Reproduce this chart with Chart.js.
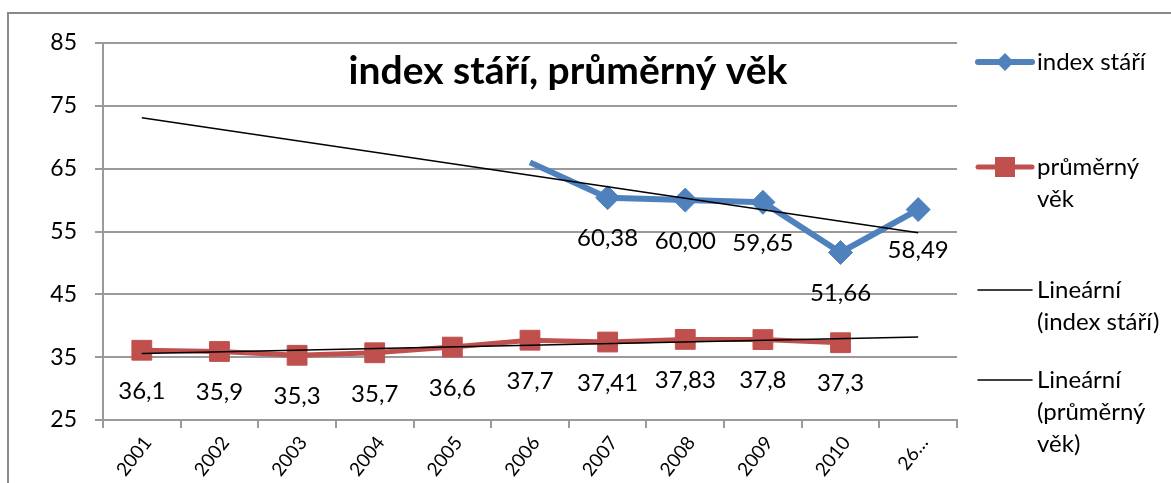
<!DOCTYPE html>
<html>
<head>
<meta charset="utf-8">
<script src="https://cdn.jsdelivr.net/npm/chart.js@4"></script>
<style>
  body { margin: 0; background: #fff; }
  canvas { display: block; }
</style>
</head>
<body>
<canvas id="chart" width="1171" height="483"></canvas>
<script>
(function(){
    const years = ["2001","2002","2003","2004","2005","2006","2007","2008","2009","2010","26…"];
    const indexStari = [null, null, null, null, null, 66, 60.38, 60.00, 59.65, 51.66, 58.49];
    const prumernyVek = [36.1, 35.9, 35.3, 35.7, 36.6, 37.7, 37.41, 37.83, 37.8, 37.3, null];
    // trend lines (ends only)
    const trendIndex = [73.1, null, null, null, null, null, null, null, null, null, 54.8];
    const trendVek = [35.6, null, null, null, null, null, null, null, null, null, 38.2];
    const yTicks = [25, 35, 45, 55, 65, 75, 85];
    const title = "index stáří, průměrný věk";
    const legendText = [["index stáří"], ["průměrný", "věk"], ["Lineární", "(index stáří)"], ["Lineární", "(průměrný", "věk)"]];

    const FONT = "Lato, 'Open Sans', sans-serif";
    const BLUE = "#4f81bd";
    const RED = "#c0504d";
    const GRID = "#9a9a9a";

    // value labels under the points
    const valueLabels = {
        id: "valueLabels",
        afterDatasetsDraw(chart) {
            const ctx = chart.ctx;
            ctx.save();
            ctx.font = "24px " + FONT;
            ctx.fillStyle = "#000";
            ctx.textAlign = "center";
            ctx.textBaseline = "middle";
            chart.data.datasets.forEach((ds, i) => {
                if (!ds.showValues) return;
                chart.getDatasetMeta(i).data.forEach((pt, j) => {
                    const v = ds.data[j];
                    if (v == null || pt.options.radius === 0) return;
                    const txt = (ds.decimals ? v.toFixed(ds.decimals) : String(v)).replace(".", ",");
                    ctx.fillText(txt, pt.x, pt.y + 41);
                });
            });
            ctx.restore();
        }
    };

    // frame, title and the legend on the right
    const decor = {
        id: "decor",
        beforeDraw(chart) {
            const ctx = chart.ctx;
            ctx.save();
            ctx.strokeStyle = "#8a8a8a";
            ctx.lineWidth = 2;
            ctx.strokeRect(8, 13, 1300, 600);
            ctx.restore();
        },
        afterDraw(chart) {
            const ctx = chart.ctx;
            ctx.save();
            ctx.fillStyle = "#000";
            ctx.font = "bold 39px " + FONT;
            ctx.textAlign = "center";
            ctx.textBaseline = "middle";
            ctx.fillText(title, 568, 71);

            const rows = [62, 167, 290, 380];
            ctx.font = "24px " + FONT;
            ctx.textAlign = "left";
            chart.data.datasets.forEach((ds, i) => {
                const y = rows[i];
                ctx.strokeStyle = ds.borderColor;
                ctx.lineWidth = ds.borderWidth;
                ctx.lineCap = "round";
                ctx.beginPath();
                ctx.moveTo(978, y);
                ctx.lineTo(1032, y);
                ctx.stroke();
                if (ds.legendMarker === "diamond") {
                    ctx.fillStyle = ds.borderColor;
                    ctx.beginPath();
                    ctx.moveTo(1005, y - 9); ctx.lineTo(1014, y); ctx.lineTo(1005, y + 9); ctx.lineTo(996, y);
                    ctx.closePath();
                    ctx.fill();
                } else if (ds.legendMarker === "square") {
                    ctx.fillStyle = ds.borderColor;
                    ctx.fillRect(995, y - 10, 20, 20);
                }
                ctx.fillStyle = "#000";
                legendText[i].forEach((line, k) => ctx.fillText(line, 1037, y + k * 32));
            });
            ctx.restore();
        }
    };

    new Chart(document.getElementById("chart"), {
        type: "line",
        data: {
            labels: years,
            datasets: [{
                label: "index stáří",
                data: indexStari,
                borderColor: BLUE,
                backgroundColor: BLUE,
                borderWidth: 6,
                pointStyle: "rectRot",
                pointRadius: indexStari.map((v, i) => i === 5 ? 0 : 12),
                pointBorderWidth: 1,
                showValues: true,
                decimals: 2,
                legendMarker: "diamond",
                order: 2
            }, {
                label: "průměrný věk",
                data: prumernyVek,
                borderColor: RED,
                backgroundColor: RED,
                borderWidth: 5,
                pointStyle: "rect",
                pointRadius: 14,
                pointBorderWidth: 1,
                showValues: true,
                legendMarker: "square",
                order: 2
            }, {
                label: "Lineární (index stáří)",
                data: trendIndex,
                borderColor: "#000",
                borderWidth: 1.5,
                pointRadius: 0,
                spanGaps: true,
                order: 1
            }, {
                label: "Lineární (průměrný věk)",
                data: trendVek,
                borderColor: "#000",
                borderWidth: 1.5,
                pointRadius: 0,
                spanGaps: true,
                order: 1
            }]
        },
        options: {
            responsive: false,
            animation: false,
            layout: { padding: { left: 0, top: 43, right: 214, bottom: 0 } },
            plugins: {
                legend: { display: false },
                tooltip: { enabled: false }
            },
            scales: {
                x: {
                    offset: true,
                    grid: { display: true, drawOnChartArea: false, offset: true, tickLength: 8, color: GRID, lineWidth: 2 },
                    border: { color: GRID, width: 2 },
                    ticks: {
                        autoSkip: false,
                        minRotation: 52,
                        maxRotation: 52,
                        padding: 4,
                        labelOffset: 6,
                        color: "#000",
                        font: { family: FONT, size: 19 }
                    },
                    afterFit(scale) { scale.height = 63; }
                },
                y: {
                    min: 25,
                    max: 85,
                    afterBuildTicks(scale) { scale.ticks = yTicks.map(v => ({ value: v })); },
                    grid: { color: GRID, lineWidth: 2, tickLength: 8 },
                    border: { color: GRID, width: 2 },
                    ticks: {
                        padding: 18,
                        color: "#000",
                        font: { family: FONT, size: 23 }
                    },
                    afterFit(scale) { scale.width = 103; }
                }
            }
        },
        plugins: [valueLabels, decor]
    });
})();
</script>
</body>
</html>
